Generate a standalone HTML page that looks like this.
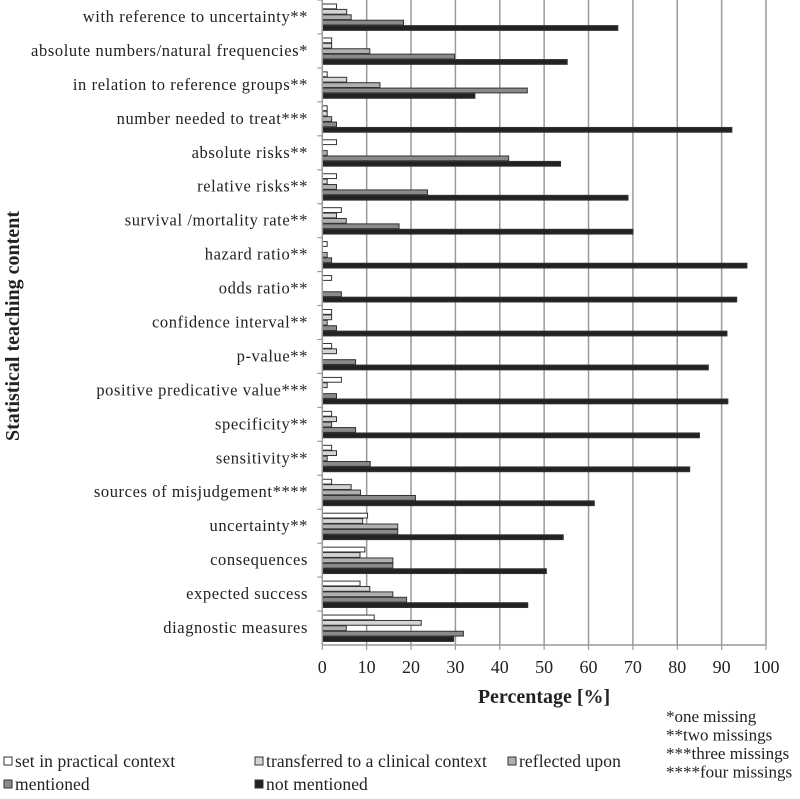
<!DOCTYPE html>
<html><head><meta charset="utf-8"><style>
body{margin:0;background:#fff;}
svg{display:block;font-family:"Liberation Serif",serif;}
</style></head><body>
<svg id="chart" width="800" height="799" viewBox="0 0 800 799"></svg>
<script>
const categories=["with reference to uncertainty**","absolute numbers/natural frequencies*","in relation to reference groups**","number needed to treat***","absolute risks**","relative risks**","survival /mortality rate**","hazard ratio**","odds ratio**","confidence interval**","p-value**","positive predicative value***","specificity**","sensitivity**","sources of misjudgement****","uncertainty**","consequences","expected success","diagnostic measures"];
const practical=[3.2,2.1,1.1,1.1,3.2,3.2,4.3,1.1,2.1,2.1,2.1,4.3,2.1,2.1,2.1,10.2,9.6,8.5,11.7];
const clinical=[5.5,2.1,5.5,1.1,0,1.1,3.2,0,0,2.1,3.2,1.1,3.2,3.2,6.5,9.1,8.5,10.7,22.3];
const reflected=[6.5,10.7,13,2.1,1.1,3.2,5.4,1.1,0,1.1,0,0,2.1,1.1,8.6,17,15.9,15.9,5.4];
const mentioned=[18.3,29.8,46.2,3.2,42,23.7,17.3,2.1,4.3,3.2,7.5,3.2,7.5,10.8,21,17,15.9,19,31.8];
const notMentioned=[66.6,55.2,34.4,92.3,53.7,68.9,70,95.7,93.4,91.2,87,91.4,85,82.8,61.3,54.3,50.5,46.3,29.6];
const xTicks=[0,10,20,30,40,50,60,70,80,90,100];
const seriesNames=["set in practical context","transferred to a clinical context","reflected upon","mentioned","not mentioned"];
const seriesFills=["#ffffff","#d4d4d4","#b0b0b0","#8a8a8a","#222222"];

const svg=document.getElementById('chart');
const NS="http://www.w3.org/2000/svg";
const X0=322.3,X1=766,YT=0,YB=645;
const xs=v=>X0+(X1-X0)*v/100;
const band=(YB-YT)/categories.length;
function mk(tag,attrs,parent){const e=document.createElementNS(NS,tag);for(const k in attrs)e.setAttribute(k,attrs[k]);(parent||svg).appendChild(e);return e;}

xTicks.forEach(t=>{
  if(t===0)return;
  const g=mk('line',{x1:xs(t),x2:xs(t),y1:YT,y2:YB,stroke:'#9a9a9a','stroke-width':1.5});
  
  
});
const bl=mk('line',{x1:X0,x2:X1,y1:YB,y2:YB,stroke:'#9a9a9a','stroke-width':1.5});


xTicks.forEach(t=>{
  const tk=mk('line',{x1:xs(t),x2:xs(t),y1:YB,y2:YB+5,stroke:'#9a9a9a','stroke-width':1.2});
  
  
  const tl=mk('text',{x:xs(t),y:YB+28,'text-anchor':'middle','font-size':18,fill:'#222'});
  tl.textContent=t;
  
  
});

const series=[practical,clinical,reflected,mentioned,notMentioned];
const bh=5.4,off=4;
categories.forEach((c,i)=>{
  const y0=YT+i*band;
  const lab=mk('text',{x:308,y:y0+band/2+5,'text-anchor':'end','font-size':16.5,'letter-spacing':0.6,fill:'#222'});
  lab.textContent=c;
  
  
  const tk=mk('line',{x1:X0-5,x2:X0,y1:y0,y2:y0,stroke:'#9a9a9a','stroke-width':1.2});
  
  
  series.forEach((s,j)=>{
    const v=s[i];
    if(v<=0)return;
    const r=mk('rect',{x:X0,y:y0+off+j*bh,width:xs(v)-X0,height:bh-0.6,fill:seriesFills[j],stroke:'#333','stroke-width':1});
    
    
  });
});
const yl=mk('line',{x1:X0,x2:X0,y1:YT,y2:YB,stroke:'#9a9a9a','stroke-width':1.5});



const xt=mk('text',{x:544,y:703,'text-anchor':'middle','font-size':20,'font-weight':'bold',fill:'#222'});
xt.textContent='Percentage [%]';


const yt=mk('text',{x:0,y:0,'text-anchor':'middle','font-size':20,'font-weight':'bold',fill:'#222',transform:'translate(19,326) rotate(-90)'});
yt.textContent='Statistical teaching content';



const legPos=[[4,768],[255,768],[508,768],[4,791],[255,791]];
seriesNames.forEach((n,j)=>{
  const [lx,ly]=legPos[j];
  const g=mk('g',{});
  
  
  mk('rect',{x:lx,y:ly-11,width:8,height:8,fill:seriesFills[j],stroke:'#333','stroke-width':1},g);
  const t=mk('text',{x:lx+11,y:ly-1,'font-size':17.5,'letter-spacing':0.1,fill:'#222'},g);
  t.textContent=n;
});
const notes=["*one missing","**two missings","***three missings","****four missings"];
notes.forEach((n,k)=>{
  const t=mk('text',{x:666,y:722+k*18.5,'font-size':17,fill:'#222'});
  t.textContent=n;
  
  
});
</script>
</body></html>
